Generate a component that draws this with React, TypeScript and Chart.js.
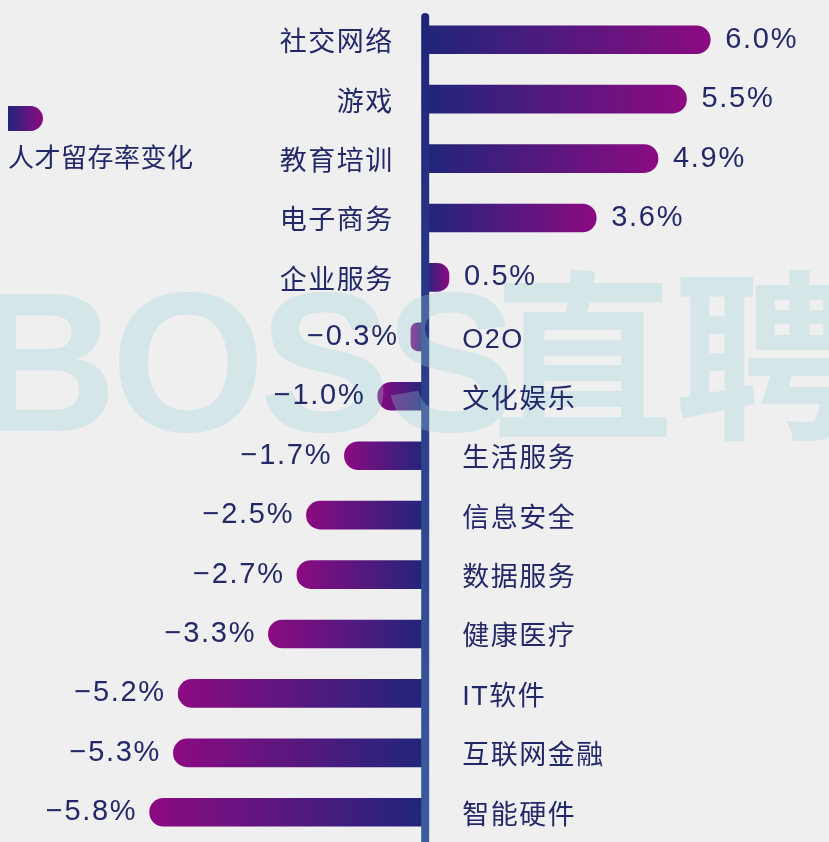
import { useEffect, useRef } from "react";
import { Chart, registerables } from "chart.js";

Chart.register(...registerables);

const categories = [
  "社交网络", "游戏", "教育培训", "电子商务", "企业服务", "O2O", "文化娱乐",
  "生活服务", "信息安全", "数据服务", "健康医疗", "IT软件", "互联网金融", "智能硬件",
];
const retentionChange = [6.0, 5.5, 4.9, 3.6, 0.5, -0.3, -1.0, -1.7, -2.5, -2.7, -3.3, -5.2, -5.3, -5.8];
const seriesLabel = "人才留存率变化";
const watermarkLatin = "BOSS";
const watermarkCJK = "直聘";

const NAVY = "#20267a";
const MAGENTA = "#8c0a82";
const TEXT = "#232868";
const FONT = '"Liberation Sans", "Noto Sans CJK SC", sans-serif';

const fmt = (v: number) => (v < 0 ? "\u2212" : "") + Math.abs(v).toFixed(1) + "%";

const overlay = {
  id: "overlay",
  afterDatasetsDraw(chart: any) {
    const ctx: CanvasRenderingContext2D = chart.ctx;
    const xs = chart.scales.x;
    const x0 = xs.getPixelForValue(0);
    ctx.save();

    // zero axis line
    const g = ctx.createLinearGradient(0, 13, 0, chart.height);
    g.addColorStop(0, "#1f2479");
    g.addColorStop(1, "#3c5c9e");
    ctx.strokeStyle = g;
    ctx.lineWidth = 8;
    ctx.lineCap = "round";
    ctx.beginPath();
    ctx.moveTo(x0, 17);
    ctx.lineTo(x0, chart.height + 10);
    ctx.stroke();

    // watermark
    ctx.fillStyle = "rgba(150,210,212,0.3)";
    ctx.textBaseline = "alphabetic";
    ctx.textAlign = "left";
    (ctx as any).letterSpacing = "-6px";
    ctx.font = 'bold 198px "Liberation Sans", sans-serif';
    ctx.fillText(watermarkLatin, -26, 431);
    (ctx as any).letterSpacing = "0px";
    ctx.font = 'bold 182px "Noto Sans CJK SC", sans-serif';
    ctx.textBaseline = "middle";
    ctx.fillText(watermarkCJK, 492, 356);

    ctx.textBaseline = "middle";
    const meta = chart.getDatasetMeta(0);
    const vls = 1.7;
    const cls = 1.5;
    meta.data.forEach((bar: any, i: number) => {
      const v = retentionChange[i];
      const yc = bar.y;
      ctx.fillStyle = TEXT;
      if (v >= 0) {
        ctx.font = "29px " + FONT;
        (ctx as any).letterSpacing = vls + "px";
        ctx.textAlign = "left";
        ctx.fillText(fmt(v), bar.x + 15, yc);
        ctx.font = "27px " + FONT;
        (ctx as any).letterSpacing = cls + "px";
        ctx.textAlign = "right";
        ctx.fillText(categories[i], x0 - 33 + cls, yc + 4);
      } else {
        ctx.font = "29px " + FONT;
        (ctx as any).letterSpacing = vls + "px";
        ctx.textAlign = "right";
        ctx.fillText(fmt(v), bar.x - 14 + vls, yc);
        ctx.font = "27px " + FONT;
        (ctx as any).letterSpacing = cls + "px";
        ctx.textAlign = "left";
        ctx.fillText(categories[i], x0 + 37, yc + 4);
      }
    });

    // legend
    const lg = ctx.createLinearGradient(8, 0, 43, 0);
    lg.addColorStop(0, NAVY);
    lg.addColorStop(1, MAGENTA);
    ctx.fillStyle = lg;
    ctx.beginPath();
    (ctx as any).roundRect(8, 106, 35, 25, [0, 12.5, 12.5, 0]);
    ctx.fill();
    ctx.fillStyle = TEXT;
    ctx.textAlign = "left";
    ctx.font = "26px " + FONT;
    (ctx as any).letterSpacing = "0.5px";
    ctx.fillText(seriesLabel, 8, 160);

    ctx.restore();
  },
};

export default function App() {
  const ref = useRef<HTMLCanvasElement | null>(null);
  useEffect(() => {
    if (!ref.current) return;
    const chart = new Chart(ref.current, {
      type: "bar",
      data: {
        labels: categories,
        datasets: [
          {
            label: seriesLabel,
            data: retentionChange,
            barThickness: 28,
            borderRadius: 14,
            borderSkipped: "start",
            backgroundColor: (c: any) => {
              const chart = c.chart;
              if (!chart.chartArea || c.raw === undefined) return "#50207e";
              const xs = chart.scales.x;
              const p0 = xs.getPixelForValue(0);
              let p1 = xs.getPixelForValue(c.raw);
              if (Math.abs(p1 - p0) < 1) p1 = p0 + 1;
              const gr = chart.ctx.createLinearGradient(p0, 0, p1, 0);
              gr.addColorStop(0, NAVY);
              gr.addColorStop(1, MAGENTA);
              return gr;
            },
          },
        ],
      },
      options: {
        indexAxis: "y",
        animation: false,
        responsive: true,
        maintainAspectRatio: false,
        layout: { padding: { top: 10, left: 0, right: 0, bottom: 0 } },
        scales: {
          x: { type: "linear", min: -8.95, max: 8.5, display: false },
          y: { display: false },
        },
        plugins: {
          legend: { display: false },
          tooltip: { enabled: false },
        },
      },
      plugins: [overlay],
    });
    return () => chart.destroy();
  }, []);
  return (
    <div
      style={{
        position: "absolute",
        left: 0,
        top: 0,
        width: 829,
        height: 842,
        background: "#efefef",
        overflow: "hidden",
      }}
    >
      <canvas ref={ref} />
    </div>
  );
}
